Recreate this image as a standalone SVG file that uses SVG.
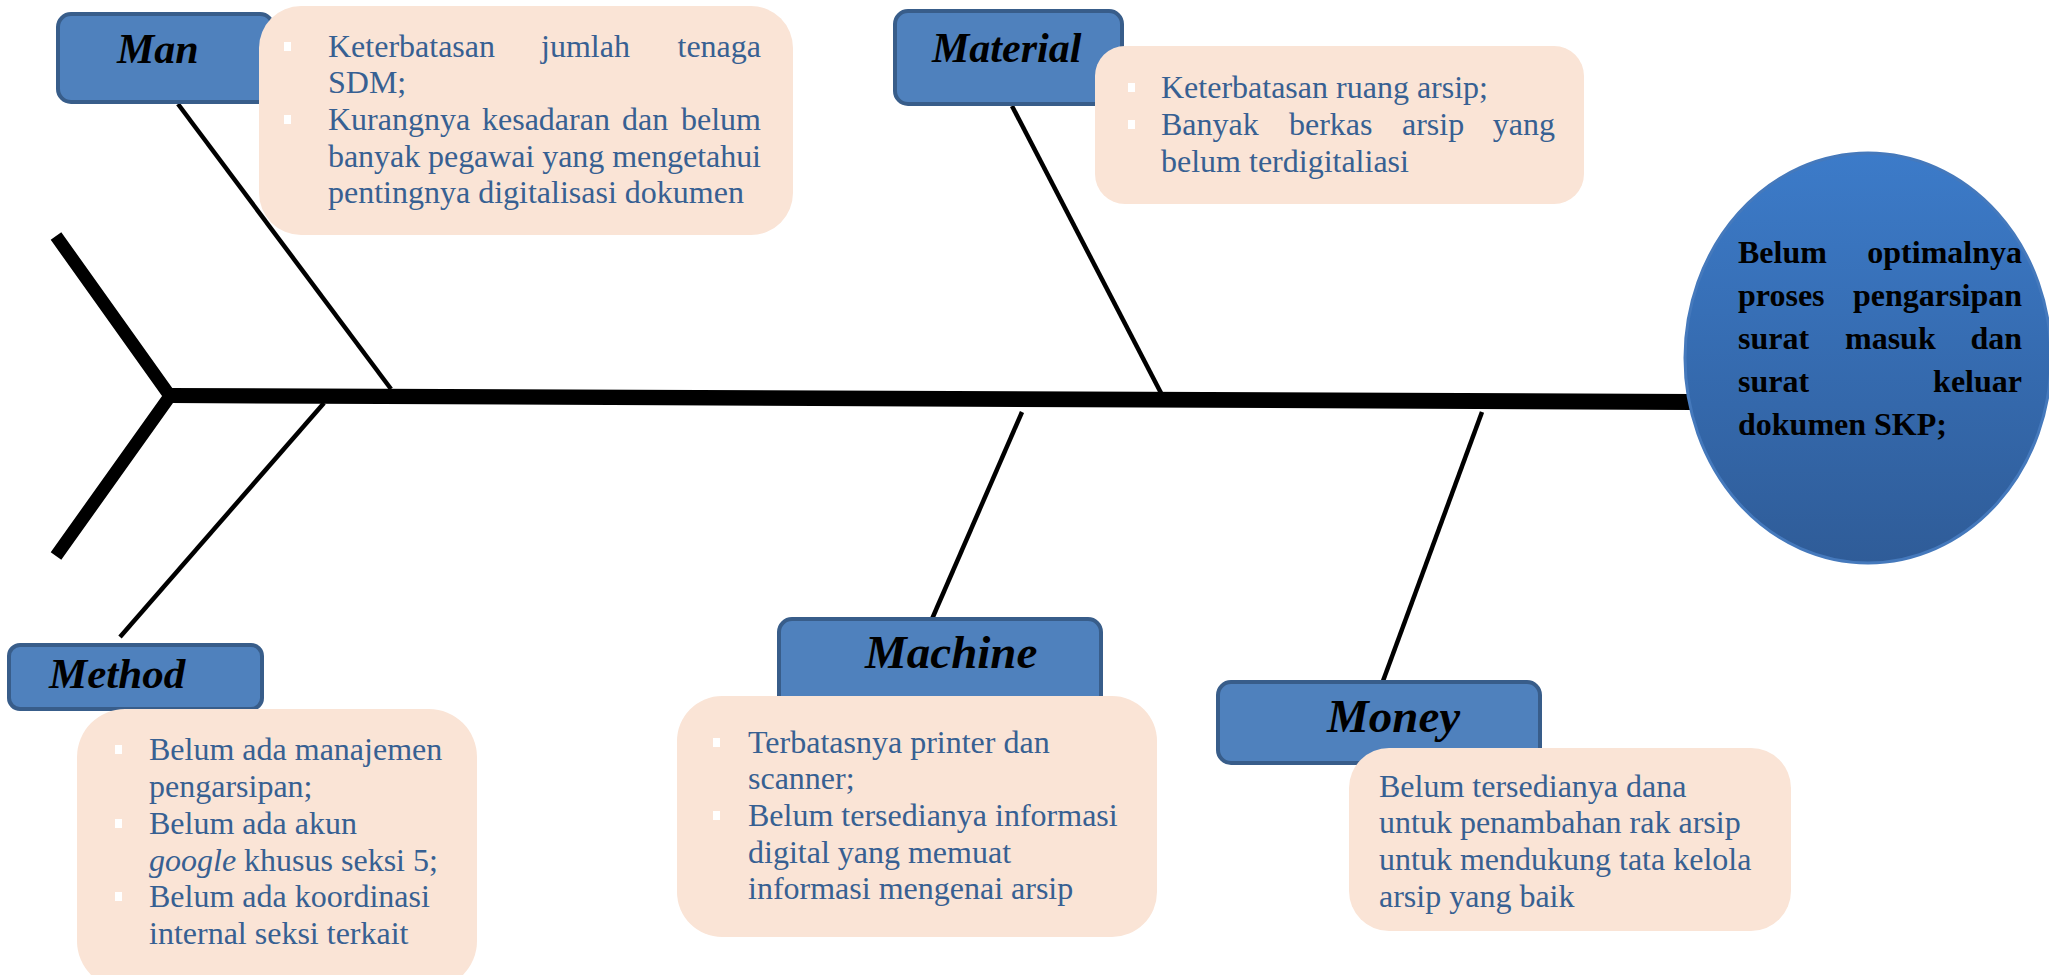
<svg xmlns="http://www.w3.org/2000/svg" width="2049" height="975" viewBox="0 0 2049 975">
<style>
.lbl{fill:#4F81BD;stroke:#385D8A;stroke-width:4}
.lblt{font-family:"Liberation Serif","Times New Roman",serif;font-weight:bold;font-style:italic;fill:#000}
.pale{fill:#FAE4D6}
.txt{font-family:"Liberation Serif","Times New Roman",serif;font-size:32px;fill:#376092}
.bul{fill:#FFFFFF}
.ctxt{font-family:"Liberation Serif","Times New Roman",serif;font-size:32px;font-weight:bold;fill:#000}
.br{stroke:#000;stroke-width:4.5;fill:none}
</style>
<defs>
<linearGradient id="g" x1="0" y1="0" x2="0" y2="1">
<stop offset="0" stop-color="#3C7BC9"/>
<stop offset="1" stop-color="#2F5C98"/>
</linearGradient>
</defs>
<rect width="2049" height="975" fill="#FFFFFF"/>

<g id="connectors">
<polygon points="170,388 1692,394 1692,410 170,403" fill="#000"/>
<polyline points="56,236 170,396 56,556" fill="none" stroke="#000" stroke-width="13" stroke-linejoin="round"/>
<line class="br" x1="178" y1="104" x2="391" y2="389"/>
<line class="br" x1="1012" y1="106" x2="1161" y2="393"/>
<line class="br" x1="324" y1="403" x2="120" y2="637"/>
<line class="br" x1="1022" y1="412" x2="932" y2="619"/>
<line class="br" x1="1482" y1="412" x2="1383" y2="681"/>
</g>

<g id="effect">
<ellipse cx="1868" cy="358" rx="183" ry="205" fill="url(#g)" stroke="#4579BC" stroke-width="3"/>
<text class="ctxt"><tspan x="1738" y="263">Belum</tspan><tspan x="2022" y="263" text-anchor="end">optimalnya</tspan></text>
<text class="ctxt"><tspan x="1738" y="306">proses</tspan><tspan x="2022" y="306" text-anchor="end">pengarsipan</tspan></text>
<text class="ctxt"><tspan x="1738" y="349">surat</tspan><tspan x="1845" y="349">masuk</tspan><tspan x="2022" y="349" text-anchor="end">dan</tspan></text>
<text class="ctxt"><tspan x="1738" y="392">surat</tspan><tspan x="2022" y="392" text-anchor="end">keluar</tspan></text>
<text class="ctxt" x="1738" y="435">dokumen SKP;</text>
</g>

<g id="man">
<rect class="lbl" x="58" y="14" width="215" height="88" rx="13"/>
<text class="lblt" x="117" y="63" font-size="42">Man</text>
<rect class="pale" x="259" y="6" width="534" height="229" rx="42"/>
<rect class="bul" x="284" y="42" width="7" height="9"/>
<rect class="bul" x="284" y="115" width="7" height="9"/>
<text class="txt"><tspan x="328" y="57">Keterbatasan</tspan><tspan x="541" y="57">jumlah</tspan><tspan x="761" y="57" text-anchor="end">tenaga</tspan></text>
<text class="txt" x="328" y="93">SDM;</text>
<text class="txt"><tspan x="328" y="130">Kurangnya</tspan><tspan x="482" y="130">kesadaran</tspan><tspan x="622" y="130">dan</tspan><tspan x="761" y="130" text-anchor="end">belum</tspan></text>
<text class="txt" x="328" y="167" textLength="433" lengthAdjust="spacing">banyak pegawai yang mengetahui</text>
<text class="txt" x="328" y="203">pentingnya digitalisasi dokumen</text>
</g>

<g id="material">
<rect class="lbl" x="895" y="11" width="227" height="93" rx="13"/>
<text class="lblt" x="932" y="62" font-size="42">Material</text>
<rect class="pale" x="1095" y="46" width="489" height="158" rx="30"/>
<rect class="bul" x="1128" y="83" width="7" height="9"/>
<rect class="bul" x="1128" y="120" width="7" height="9"/>
<text class="txt" x="1161" y="98">Keterbatasan ruang arsip;</text>
<text class="txt"><tspan x="1161" y="135">Banyak</tspan><tspan x="1289" y="135">berkas</tspan><tspan x="1402" y="135">arsip</tspan><tspan x="1555" y="135" text-anchor="end">yang</tspan></text>
<text class="txt" x="1161" y="172">belum terdigitaliasi</text>
</g>

<g id="method">
<rect class="lbl" x="9" y="645" width="253" height="64" rx="11"/>
<text class="lblt" x="49" y="688" font-size="43">Method</text>
<rect class="pale" x="77" y="709" width="400" height="280" rx="48"/>
<rect class="bul" x="115" y="745" width="7" height="9"/>
<rect class="bul" x="115" y="819" width="7" height="9"/>
<rect class="bul" x="115" y="892" width="7" height="9"/>
<text class="txt" x="149" y="760">Belum ada manajemen</text>
<text class="txt" x="149" y="797">pengarsipan;</text>
<text class="txt" x="149" y="834">Belum ada akun</text>
<text class="txt" x="149" y="871"><tspan font-style="italic">google</tspan> khusus seksi 5;</text>
<text class="txt" x="149" y="907">Belum ada koordinasi</text>
<text class="txt" x="149" y="944">internal seksi terkait</text>
</g>

<g id="machine">
<rect class="lbl" x="779" y="619" width="322" height="90" rx="13"/>
<text class="lblt" x="865" y="668" font-size="47">Machine</text>
<rect class="pale" x="677" y="696" width="480" height="241" rx="45"/>
<rect class="bul" x="713" y="738" width="7" height="9"/>
<rect class="bul" x="713" y="811" width="7" height="9"/>
<text class="txt" x="748" y="753">Terbatasnya printer dan</text>
<text class="txt" x="748" y="789">scanner;</text>
<text class="txt" x="748" y="826">Belum tersedianya informasi</text>
<text class="txt" x="748" y="863">digital yang memuat</text>
<text class="txt" x="748" y="899">informasi mengenai arsip</text>
</g>

<g id="money">
<rect class="lbl" x="1218" y="682" width="322" height="81" rx="13"/>
<text class="lblt" x="1327" y="732" font-size="47">Money</text>
<rect class="pale" x="1349" y="748" width="442" height="183" rx="40"/>
<text class="txt" x="1379" y="797">Belum tersedianya dana</text>
<text class="txt" x="1379" y="833">untuk penambahan rak arsip</text>
<text class="txt" x="1379" y="870">untuk mendukung tata kelola</text>
<text class="txt" x="1379" y="907">arsip yang baik</text>
</g>
</svg>
